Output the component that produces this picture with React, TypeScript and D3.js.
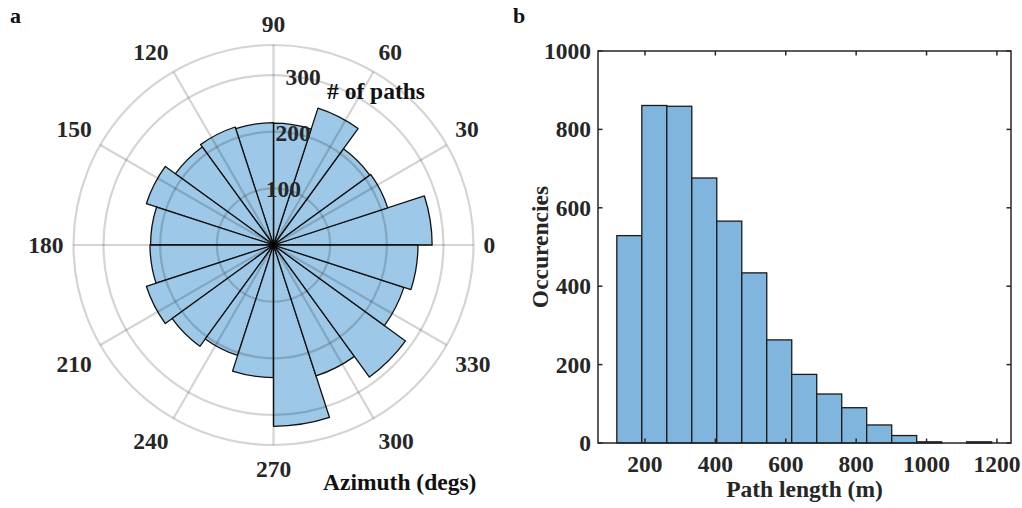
import React from "react";
import * as d3 from "d3";

// ---------- Data ----------
// Polar histogram (panel a): azimuth bins (deg, start of bin), width 18 deg
const azimuthBinStarts = [0, 18, 36, 54, 72, 90, 108, 126, 144, 162, 180, 198, 216, 234, 252, 270, 288, 306, 324, 342];
const azimuthBinWidth = 18;
const pathCounts = [280, 212, 210, 254, 215, 216, 219, 214, 236, 217, 218, 236, 221, 205, 234, 320, 243, 288, 242, 255];
const thetaTicks = [0, 30, 60, 90, 120, 150, 180, 210, 240, 270, 300, 330];
const rTicks = [100, 200, 300];

// Histogram (panel b)
const lengthBinEdges = [120, 191, 262, 333, 404, 475, 546, 617, 688, 759, 830, 901, 972, 1043, 1114, 1185];
const occurrences = [529, 861, 859, 676, 566, 434, 263, 175, 125, 90, 46, 19, 3, 0, 3];
const xTicks = [200, 400, 600, 800, 1000, 1200];
const yTicks = [0, 200, 400, 600, 800, 1000];

const FONT = '"Liberation Serif", "Times New Roman", serif';
const FS = 23.5;

export default function App() {
  // ---- polar geometry ----
  const cx = 273.5;
  const cy = 245;
  const rScale = d3.scaleLinear().domain([0, 353]).range([0, 200]);
  const outerR = rScale(353);
  const rad = (deg: number) => (deg * Math.PI) / 180;
  const arcGen = d3.arc<any>();

  const wedges = azimuthBinStarts.map((s, i) => {
    const e = s + azimuthBinWidth;
    return arcGen({
      innerRadius: 0,
      outerRadius: rScale(pathCounts[i]),
      startAngle: rad(90 - e),
      endAngle: rad(90 - s),
    }) as string;
  });

  const labelR = 210;
  const thetaLabels = thetaTicks.map((t) => {
    const c = Math.cos(rad(t));
    const s = Math.sin(rad(t));
    const x = cx + labelR * c;
    const y = cy - labelR * s;
    let anchor = "middle";
    if (c > 0.2) anchor = "start";
    else if (c < -0.2) anchor = "end";
    let by: number;
    if (s > 0.2) by = y - 3;
    else if (s < -0.2) by = y + 22;
    else by = y + 8;
    return { t, x, y: by, anchor };
  });

  const rLabelAngle = rad(80);

  // ---- histogram geometry ----
  const x = d3.scaleLinear().domain([66.5, 1240]).range([598, 1011]);
  const y = d3.scaleLinear().domain([0, 1000]).range([443, 51]);
  const [x0, x1] = x.range();
  const [yb, yt] = y.range();
  const tl = 4.5;

  return (
    <svg
      width={1022}
      height={508}
      style={{ position: "absolute", left: 0, top: 0, background: "#fff" }}
      fontFamily={FONT}
      fontWeight="bold"
    >
      <rect x={0} y={0} width={1022} height={508} fill="#fff" />
      {/* Panel labels */}
      <text x={10} y={23} fontSize={22} fill="#111">a</text>
      <text x={513} y={23} fontSize={22} fill="#111">b</text>

      {/* ---------- Polar histogram ---------- */}
      <g transform={`translate(${cx},${cy})`}>
        {wedges.map((d, i) => (
          <path key={i} d={d} fill="#9dc8e7" stroke="#111" strokeWidth={1.3} strokeLinejoin="round" />
        ))}
        {/* grid on top */}
        {rTicks.map((r) => (
          <circle key={r} r={rScale(r)} fill="none" stroke="#000" strokeOpacity={0.17} strokeWidth={2.2} />
        ))}
        <circle r={outerR} fill="none" stroke="#000" strokeOpacity={0.17} strokeWidth={2.2} />
        {thetaTicks.map((t) => (
          <line
            key={t}
            x1={0}
            y1={0}
            x2={outerR * Math.cos(rad(t))}
            y2={-outerR * Math.sin(rad(t))}
            stroke="#000"
            strokeOpacity={0.17}
            strokeWidth={2.2}
          />
        ))}
        {rTicks.map((r) => (
          <text
            key={r}
            x={rScale(r) * Math.cos(rLabelAngle)}
            y={-rScale(r) * Math.sin(rLabelAngle) + 7.5}
            textAnchor="middle"
            fontSize={FS}
            fill="#262626"
          >
            {r}
          </text>
        ))}
        <circle r={2.5} fill="#000" />
      </g>
      {thetaLabels.map((l) => (
        <text key={l.t} x={l.x} y={l.y} textAnchor={l.anchor as any} fontSize={FS} fill="#262626">
          {l.t}
        </text>
      ))}
      <text x={327} y={98.5} fontSize={FS} fill="#111">
        # of paths
      </text>
      <text x={323} y={490} fontSize={FS} fill="#111">
        Azimuth (degs)
      </text>

      {/* ---------- Histogram ---------- */}
      {occurrences.map((v, i) => (
        <rect
          key={i}
          x={x(lengthBinEdges[i])}
          y={y(v)}
          width={x(lengthBinEdges[i + 1]) - x(lengthBinEdges[i])}
          height={yb - y(v)}
          fill="#80b6de"
          stroke="#1a1a1a"
          strokeWidth={1.3}
        />
      ))}
      {/* axes box */}
      <rect x={x0} y={yt} width={x1 - x0} height={yb - yt} fill="none" stroke="#262626" strokeWidth={1.5} />
      {xTicks.map((t) => (
        <g key={t}>
          <line x1={x(t)} x2={x(t)} y1={yb} y2={yb - tl} stroke="#262626" strokeWidth={1.5} />
          <line x1={x(t)} x2={x(t)} y1={yt} y2={yt + tl} stroke="#262626" strokeWidth={1.5} />
          <text x={x(t)} y={472} textAnchor="middle" fontSize={FS} fill="#262626">
            {t}
          </text>
        </g>
      ))}
      {yTicks.map((t) => (
        <g key={t}>
          <line x1={x0} x2={x0 + tl} y1={y(t)} y2={y(t)} stroke="#262626" strokeWidth={1.5} />
          <line x1={x1} x2={x1 - tl} y1={y(t)} y2={y(t)} stroke="#262626" strokeWidth={1.5} />
          <text x={591} y={y(t) + 8} textAnchor="end" fontSize={FS} fill="#262626">
            {t}
          </text>
        </g>
      ))}
      <text x={(x0 + x1) / 2} y={497} textAnchor="middle" fontSize={FS} fill="#262626">
        Path length (m)
      </text>
      <text
        transform={`translate(548,${(yb + yt) / 2}) rotate(-90)`}
        textAnchor="middle"
        fontSize={FS}
        fill="#262626"
      >
        Occurencies
      </text>
    </svg>
  );
}
